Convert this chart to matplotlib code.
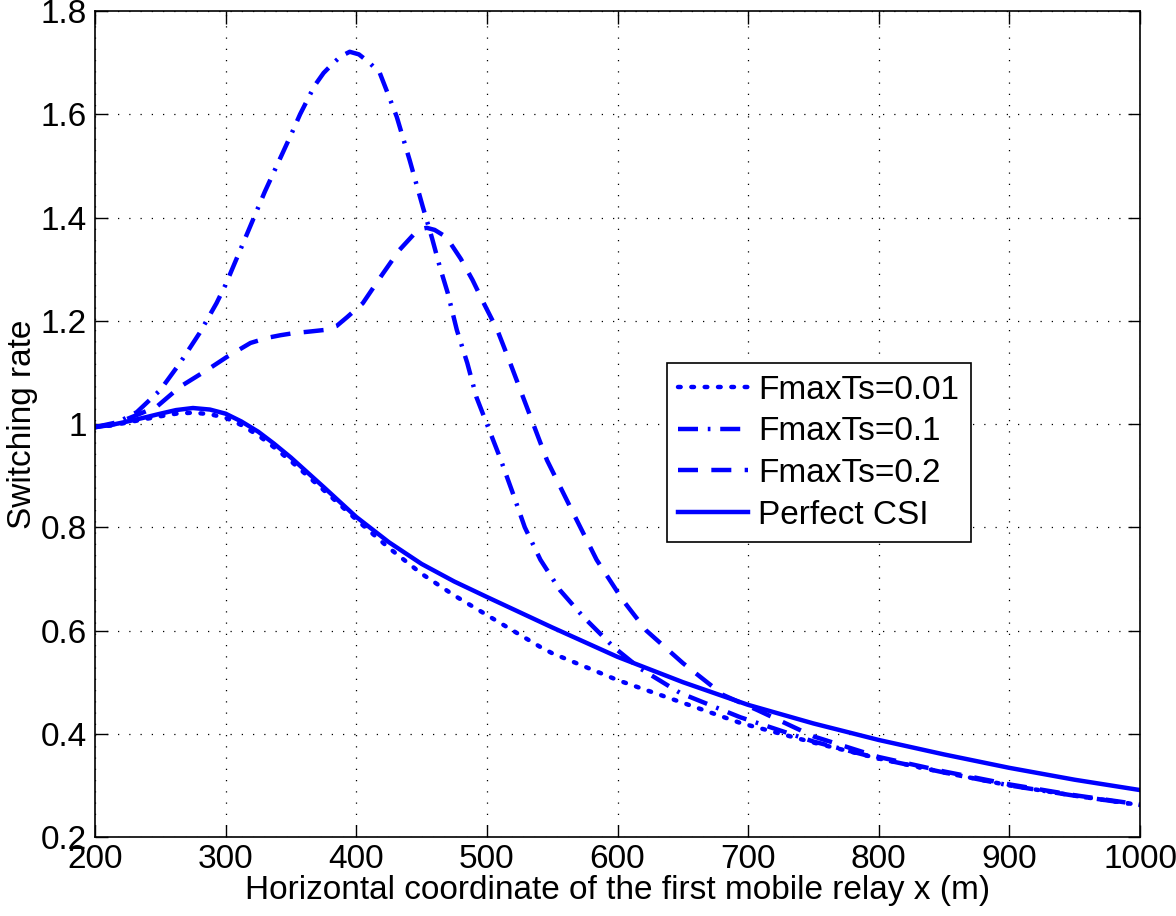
import numpy as np
import matplotlib
matplotlib.use('Agg')
import matplotlib.pyplot as plt
from matplotlib.ticker import FuncFormatter

plt.rcParams['font.family'] = ['Liberation Sans', 'DejaVu Sans']

# Perfect CSI (solid)
x_csi = [200, 212, 225, 237, 250, 262, 275, 288, 300, 312, 325, 337, 350, 375, 400,
         425, 450, 475, 500, 550, 600, 650, 700, 750, 800, 850, 900, 950, 1000]
y_csi = [0.994, 0.998, 1.005, 1.012, 1.02, 1.027, 1.031, 1.028, 1.02, 1.005, 0.985,
         0.962, 0.935, 0.878, 0.82, 0.771, 0.729, 0.695, 0.665, 0.606, 0.549, 0.50,
         0.456, 0.42, 0.388, 0.36, 0.334, 0.311, 0.291]

# FmaxTs = 0.01 (dotted)
x_001 = [200, 212, 225, 237, 250, 262, 275, 288, 300, 312, 325, 337, 350, 375, 400,
         425, 450, 475, 500, 541, 550, 600, 650, 694, 750, 800, 850, 900, 950, 1000]
y_001 = [0.994, 0.997, 1.003, 1.009, 1.015, 1.02, 1.022, 1.019, 1.012, 0.998, 0.978,
         0.955, 0.928, 0.872, 0.815, 0.76, 0.71, 0.668, 0.63, 0.568, 0.556, 0.504,
         0.46, 0.421, 0.383, 0.352, 0.325, 0.30, 0.28, 0.262]

# FmaxTs = 0.1 (dash-dot)
x_01 = [200, 215, 232, 250, 265, 280, 293, 300, 310, 320, 330, 340, 350, 357, 368,
        375, 382, 388, 395, 402, 410, 418, 426, 431, 441, 451, 458, 464, 470, 477,
        485, 492, 500, 510, 520, 529, 541, 556, 574, 597, 617, 648, 694, 750, 800,
        850, 900, 950, 1000]
y_01 = [0.994, 1.0, 1.023, 1.066, 1.118, 1.176, 1.234, 1.27, 1.33, 1.39, 1.45, 1.505,
        1.56, 1.6, 1.655, 1.68, 1.698, 1.712, 1.721, 1.716, 1.70, 1.68, 1.628, 1.595,
        1.51, 1.42, 1.36, 1.304, 1.254, 1.182, 1.118, 1.052, 1.0, 0.935, 0.865, 0.80,
        0.737, 0.678, 0.626, 0.568, 0.527, 0.479, 0.432, 0.385, 0.352, 0.325, 0.30,
        0.28, 0.262]

# FmaxTs = 0.2 (dashed)
x_02 = [200, 220, 247, 265, 286, 301, 319, 332, 342, 352, 364, 375, 385, 393, 405,
        420, 433, 445, 450, 454, 460, 469, 480, 489, 498, 508, 518, 528, 546, 566,
        584, 604, 622, 650, 681, 707, 750, 800, 850, 900, 950, 1000]
y_02 = [0.994, 1.005, 1.033, 1.072, 1.105, 1.13, 1.157, 1.167, 1.172, 1.176, 1.179,
        1.182, 1.19, 1.207, 1.234, 1.29, 1.337, 1.37, 1.378, 1.38, 1.376, 1.362, 1.32,
        1.279, 1.232, 1.182, 1.117, 1.05, 0.93, 0.828, 0.737, 0.659, 0.60, 0.537,
        0.475, 0.446, 0.395, 0.355, 0.327, 0.302, 0.281, 0.263]

fig = plt.figure(figsize=(11.76, 9.16), dpi=100)
ax = fig.add_axes([0.0808, 0.0862, 0.8886, 0.9018])

blue = '#0000ff'
lw = 3.2
ax.plot(x_001, y_001, color=blue, lw=lw, linestyle=(0, (0.6, 2.4)),
        dash_capstyle='round', label='FmaxTs=0.01')
ax.plot(x_01, y_01, color=blue, lw=lw, linestyle=(0, (4.5, 2.2, 0.6, 2.2)),
        label='FmaxTs=0.1')
ax.plot(x_02, y_02, color=blue, lw=lw, linestyle=(0, (4.5, 3.0)),
        label='FmaxTs=0.2')
ax.plot(x_csi, y_csi, color=blue, lw=lw, linestyle='-', label='Perfect CSI')

ax.set_xlim(200, 1000)
ax.set_ylim(0.2, 1.8)
ax.set_xticks(np.arange(200, 1001, 100))
ax.set_yticks(np.arange(0.2, 1.81, 0.2))
ax.yaxis.set_major_formatter(FuncFormatter(lambda v, p: '%g' % round(v, 2)))

ax.grid(True, color='black', linestyle=(0, (1, 8)), linewidth=0.9)
ax.tick_params(direction='in', length=9, width=1.0, top=True, right=True,
               labelsize=24)
ax.tick_params(axis='x', pad=5)
ax.tick_params(axis='y', pad=6)
for s in ax.spines.values():
    s.set_linewidth(1.2)

ax.set_xlabel('Horizontal coordinate of the first mobile relay x (m)', fontsize=24,
              labelpad=0)
ax.set_ylabel('Switching rate', fontsize=24, labelpad=2)

leg = ax.legend(loc='upper left', bbox_to_anchor=(0.547, 0.574), fontsize=24,
                fancybox=False, edgecolor='black', framealpha=1,
                handlelength=2.1, borderaxespad=0, labelspacing=0.32,
                handletextpad=0.3, borderpad=0.35)
leg.get_frame().set_linewidth(1.2)

fig.savefig('out.png', dpi=100)
